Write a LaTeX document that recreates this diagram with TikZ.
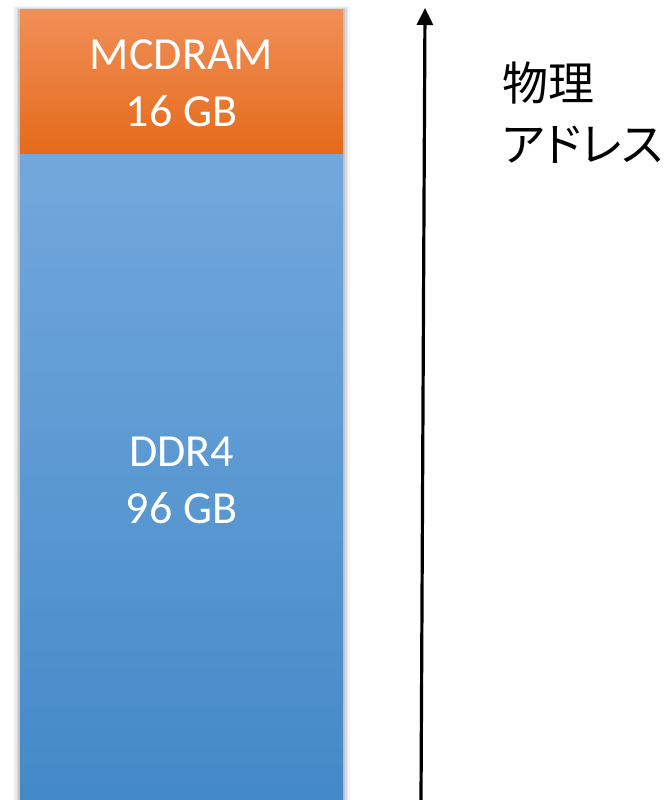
\documentclass[tikz,border=0pt]{standalone}
\usepackage{fontspec}
\setmainfont{Carlito}
\newfontfamily\jpfont[RawFeature=+palt]{Noto Sans CJK JP}
\usetikzlibrary{arrows.meta,shadings}
\definecolor{orTop}{RGB}{241,143,88}
\definecolor{orBot}{RGB}{228,106,26}
\definecolor{blTop}{RGB}{114,168,220}
\definecolor{blBot}{RGB}{68,137,200}
\tikzset{
  memtext/.style={text=white,font=\fontsize{46}{57}\selectfont,align=center},
  jptext/.style={text=black,font=\jpfont\fontsize{46}{61}\selectfont,align=left,anchor=north west,inner sep=0pt},
  addrarrow/.style={line width=3.2pt,-{Triangle[width=16pt,length=17pt]}}
}
\begin{document}
\begin{tikzpicture}[x=1pt,y=-1pt]
\useasboundingbox (0,0) rectangle (665,800);
% soft shadow
\foreach \d/\o in {7/0.04,5/0.05,3.5/0.07,2/0.09}{
  \fill[black,opacity=\o] (20-\d,10-\d*0.5) rectangle (343+\d,800);
}
\shade[top color=orTop,bottom color=orBot] (20,10) rectangle (343,154);
\shade[top color=blTop,bottom color=blBot] (20,154) rectangle (343,800);
\node[memtext] (mc) at (181.5,83) {MCDRAM\\16 GB};
\node[memtext] (ddr) at (181.5,480) {DDR4\\96 GB};
\coordinate (abot) at (421,800);
\coordinate (atop) at (425,8);
\draw[addrarrow] (abot) -- (atop);
\node[jptext] (phys) at (502,62) {物理\\アドレス};
\end{tikzpicture}
\end{document}
